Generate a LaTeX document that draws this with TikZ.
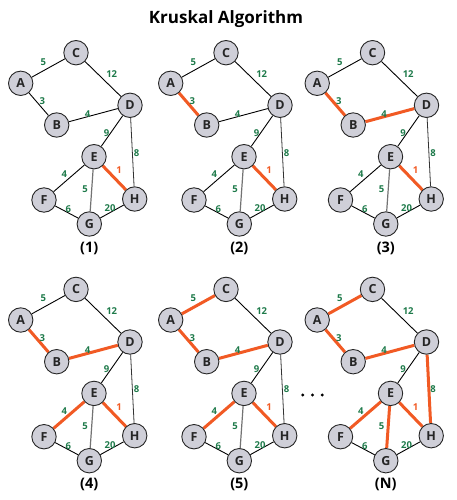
\documentclass[tikz,border=0pt]{standalone}
\usepackage{fontspec}
\setmainfont{Open Sans}
\pgfdeclarelayer{bg}\pgfsetlayers{bg,main}
\definecolor{hotc}{HTML}{F15A24}
\definecolor{lblc}{HTML}{1E7A4A}
\definecolor{nodec}{HTML}{CFCFD8}
\tikzset{
  x=1pt, y=-1pt,
  vtx/.style={circle, draw=black!85, line width=0.9pt, fill=nodec, minimum size=24.4pt, inner sep=0pt,
    font=\fontsize{12.5}{12.5}\selectfont\bfseries, text=black!85},
  plain/.style={draw=black, line width=0.9pt},
  hot/.style={draw=hotc, line width=3pt},
  lbl/.style={text=lblc, font=\fontsize{9.5}{10}\selectfont\bfseries, inner sep=0pt},
  hotlbl/.style={lbl, text=hotc},
  plab/.style={font=\fontsize{14.5}{14.5}\selectfont\bfseries, inner sep=0pt},
  eAC/.style=plain, eAB/.style=plain, eCD/.style=plain, eBD/.style=plain,
  eDE/.style=plain, eDH/.style={draw=black!80, line width=0.8pt},
  eEH/.style=hot, eEF/.style=plain, eEG/.style={draw=black!55, line width=1.2pt},
  eFG/.style=plain, eGH/.style=plain
}
\newcommand\gpanel[5]{%
\begin{scope}[shift={(#2,#3)}, #5]
  \node[vtx] (#1A) at (20.7,83.3) {A};
  \node[vtx] (#1C) at (76,52.7) {C};
  \node[vtx] (#1D) at (130,105.3) {D};
  \node[vtx] (#1B) at (56.7,125) {B};
  \node[vtx] (#1E) at (94,156.7) {E};
  \node[vtx] (#1F) at (44,200) {F};
  \node[vtx] (#1H) at (134.7,199) {H};
  \node[vtx] (#1G) at (89.3,224) {G};
  \node[plab] (#1lab) at (89.3,248) {(#4)};
  \begin{pgfonlayer}{bg}
    \draw[eAC] (#1A) -- (#1C);
    \draw[eAB] (#1A) -- (#1B);
    \draw[eCD] (#1C) -- (#1D);
    \draw[eBD] (#1B) -- (#1D);
    \draw[eDE] (#1D) -- (#1E);
    \draw[eDH] (#1D) -- (#1H);
    \draw[eEH] (#1E) -- (#1H);
    \draw[eEF] (#1E) -- (#1F);
    \draw[eEG] (#1E) -- (#1G);
    \draw[eFG] (#1F) -- (#1G);
    \draw[eGH] (#1G) -- (#1H);
  \end{pgfonlayer}
  \node[lbl] (#1wAC) at (43.3,61.7) {5};
  \node[lbl] (#1wCD) at (111.7,74) {12};
  \node[lbl] (#1wAB) at (42.3,101) {3};
  \node[lbl] (#1wBD) at (87.7,113.7) {4};
  \node[lbl] (#1wDE) at (106.7,132.7) {9};
  \node[lbl] (#1wDH) at (136.7,152.7) {8};
  \node[hotlbl] (#1wEH) at (119,170) {1};
  \node[lbl] (#1wEF) at (64.3,174.3) {4};
  \node[lbl] (#1wEG) at (85,189.3) {5};
  \node[lbl] (#1wFG) at (68.3,209) {6};
  \node[lbl] (#1wGH) at (110,208.3) {20};
\end{scope}}
\begin{document}
\begin{tikzpicture}
  \useasboundingbox (0,0) rectangle (457,500);
  \node[font=\fontsize{17}{17}\selectfont\bfseries, inner sep=0pt] (title) at (226,19) {Kruskal Algorithm};
  \gpanel{a}{0}{0}{1}{}
  \gpanel{b}{150}{0}{2}{eAB/.style=hot}
  \gpanel{c}{296.5}{0}{3}{eAB/.style=hot, eBD/.style=hot}
  \gpanel{d}{0}{236.7}{4}{eAB/.style=hot, eBD/.style=hot, eEF/.style=hot}
  \gpanel{e}{150}{236.7}{5}{eAB/.style=hot, eBD/.style=hot, eEF/.style=hot, eAC/.style=hot}
  \gpanel{f}{296.5}{236.7}{N}{eAB/.style=hot, eBD/.style=hot, eEF/.style=hot, eAC/.style=hot, eEG/.style=hot, eDH/.style=hot}
  \fill (302.7,395) circle (1.6pt) (312.5,395) circle (1.6pt) (322.3,395) circle (1.6pt);
\end{tikzpicture}
\end{document}
